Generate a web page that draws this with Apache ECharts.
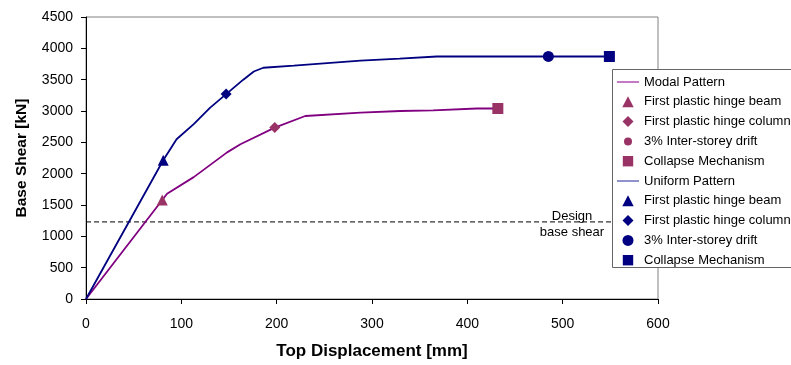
<!DOCTYPE html>
<html><head><meta charset="utf-8">
<script src="https://cdn.jsdelivr.net/npm/echarts@6/dist/echarts.min.js"></script>
<style>html,body{margin:0;padding:0;background:#fff}#c{width:791px;height:365px}</style>
</head><body><div id="c"></div>
<script>
// Pushover curves: [top displacement mm, base shear kN]
const modalCurve = [[0,0],[80,1580],[85,1680],[113,1945],[148,2340],[162,2470],[198,2735],[230,2920],[288,2975],[330,3000],[364,3010],[410,3040],[432,3040]];
const uniformCurve = [[0,0],[81,2215],[95,2550],[113,2790],[130,3050],[147,3270],[165,3500],[176,3630],[186,3690],[218,3725],[288,3805],[329,3835],[368,3870],[485,3870],[549,3870]];
const modalBeam = [[80,1580]];
const modalColumn = [[198,2735]];
const modalDrift = [];
const modalCollapse = [[432,3040]];
const uniformBeam = [[81,2215]];
const uniformColumn = [[147,3270]];
const uniformDrift = [[485,3870]];
const uniformCollapse = [[549,3870]];
const designBaseShear = 1230;
const designLine = [[0,designBaseShear],[600,designBaseShear]];
const xTicks = [0,100,200,300,400,500,600];
const yTicks = [0,500,1000,1500,2000,2500,3000,3500,4000,4500];

const ZW = '\u200b';
const mCol = '#993366', uCol = '#000080';
const font = 'Liberation Sans, Arial, sans-serif';

// legend icons drawn in a 22x11 box (corner moves fix the box)
const BOX = 'path://M0,0M22,11';
const ICON = {
  line: BOX + 'M0,4.9H22V6.1H0Z',
  triangle: BOX + 'M5.3,11L11,0L16.7,11Z',
  diamond: BOX + 'M11,0L16.5,5.5L11,11L5.5,5.5Z',
  circleS: BOX + 'M7,5.5A4,4,0,1,1,15,5.5A4,4,0,1,1,7,5.5Z',
  circle: BOX + 'M5.5,5.5A5.5,5.5,0,1,1,16.5,5.5A5.5,5.5,0,1,1,5.5,5.5Z',
  square: BOX + 'M5.8,0.3H16.2V10.7H5.8Z'
};

function scatter(name, data, symbol, color, size) {
  return { name, type: 'scatter', data, symbol, symbolSize: size, itemStyle: { color, opacity: 1 }, z: 5 };
}

const chart = echarts.init(document.getElementById('c'), null, { renderer: 'canvas' });
chart.setOption({
  animation: false,
  textStyle: { fontFamily: font, color: '#000' },
  grid: { left: 86, right: 133, top: 17, bottom: 64, show: true, borderColor: '#808080', borderWidth: 1, backgroundColor: 'transparent' },
  xAxis: {
    type: 'value', min: xTicks[0], max: xTicks[xTicks.length-1], interval: 100,
    name: 'Top Displacement [mm]', nameLocation: 'middle', nameGap: 44,
    nameTextStyle: { fontSize: 17, fontWeight: 'bold', fontFamily: font, color: '#000' },
    axisLine: { show: true, onZero: false, lineStyle: { color: '#000', width: 1 } },
    axisTick: { show: true, length: 5, lineStyle: { color: '#000' } },
    axisLabel: { fontSize: 14, color: '#000', margin: 18, fontFamily: font },
    splitLine: { show: false }
  },
  yAxis: {
    type: 'value', min: yTicks[0], max: yTicks[yTicks.length-1], interval: 500,
    name: 'Base Shear [kN]', nameLocation: 'middle', nameGap: 56,
    nameTextStyle: { fontSize: 15.5, fontWeight: 'bold', fontFamily: font, color: '#000' },
    axisLine: { show: true, onZero: false, lineStyle: { color: '#000', width: 1 } },
    axisTick: { show: true, length: 5, lineStyle: { color: '#000' } },
    axisLabel: { fontSize: 14, color: '#000', margin: 13, fontFamily: font, formatter: v => String(v) },
    splitLine: { show: false }
  },
  legend: {
    orient: 'vertical', left: 617, top: 75.5, padding: 0,
    itemWidth: 22, itemHeight: 11, itemGap: 6.8,
    textStyle: { fontSize: 13, color: '#000', fontFamily: font },
    selectedMode: false, z: 20,
    data: [
      { name: 'Modal Pattern', icon: ICON.line },
      { name: 'First plastic hinge beam', icon: ICON.triangle },
      { name: 'First plastic hinge column', icon: ICON.diamond },
      { name: '3% Inter-storey drift', icon: ICON.circleS },
      { name: 'Collapse Mechanism', icon: ICON.square },
      { name: 'Uniform Pattern', icon: ICON.line },
      { name: 'First plastic hinge beam' + ZW, icon: ICON.triangle },
      { name: 'First plastic hinge column' + ZW, icon: ICON.diamond },
      { name: '3% Inter-storey drift' + ZW, icon: ICON.circle },
      { name: 'Collapse Mechanism' + ZW, icon: ICON.square }
    ]
  },
  graphic: [
    { type: 'rect', z: 10, shape: { x: 612.5, y: 69.5, width: 200, height: 198 }, style: { fill: '#fff', stroke: '#666', lineWidth: 1 } },
    { type: 'text', z: 6, x: 572, y: 216, style: { text: 'Design', font: '13px ' + font, fill: '#000', align: 'center', verticalAlign: 'middle' } },
    { type: 'text', z: 6, x: 572, y: 232, style: { text: 'base shear', font: '13px ' + font, fill: '#000', align: 'center', verticalAlign: 'middle' } }
  ],
  series: [
    { name: 'design', type: 'line', data: designLine, symbol: 'none', lineStyle: { color: '#000', width: 1, type: [5,3] }, z: 1, silent: true },
    { name: 'modal-curve', type: 'line', data: modalCurve, symbol: 'none', lineStyle: { color: '#800080', width: 1.8 }, z: 3 },
    { name: 'uniform-curve', type: 'line', data: uniformCurve, symbol: 'none', lineStyle: { color: uCol, width: 1.8 }, z: 3 },
    scatter('Modal Pattern', [], 'none', '#a020a0', 1),
    scatter('First plastic hinge beam', modalBeam, 'triangle', mCol, 11),
    scatter('First plastic hinge column', modalColumn, 'diamond', mCol, 11),
    scatter('3% Inter-storey drift', modalDrift, 'circle', mCol, 8),
    scatter('Collapse Mechanism', modalCollapse, 'rect', mCol, 11),
    scatter('Uniform Pattern', [], 'none', '#4848a8', 1),
    scatter('First plastic hinge beam' + ZW, uniformBeam, 'triangle', uCol, 11),
    scatter('First plastic hinge column' + ZW, uniformColumn, 'diamond', uCol, 11),
    scatter('3% Inter-storey drift' + ZW, uniformDrift, 'circle', uCol, 11),
    scatter('Collapse Mechanism' + ZW, uniformCollapse, 'rect', uCol, 11)
  ]
});
</script></body></html>
